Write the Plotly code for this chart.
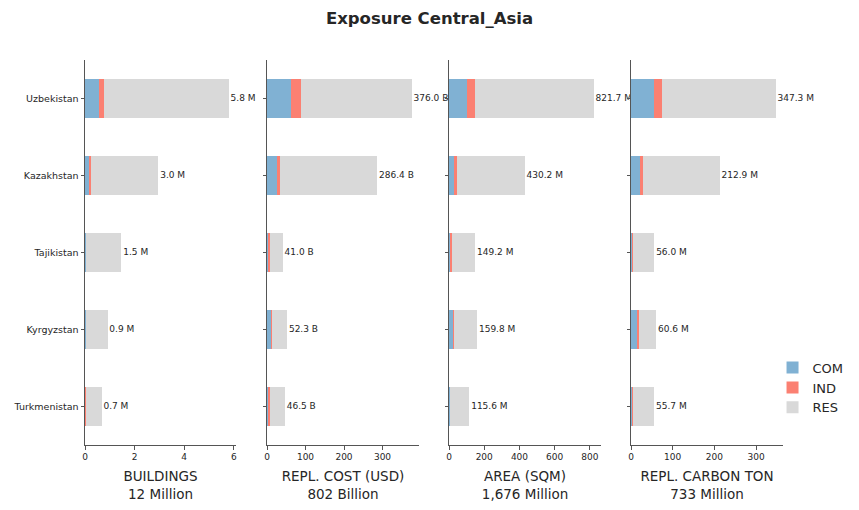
import plotly.graph_objects as go

countries = ["Uzbekistan", "Kazakhstan", "Tajikistan", "Kyrgyzstan", "Turkmenistan"]

# BUILDINGS (million)
bld_com = [0.58, 0.17, 0.06, 0.06, 0.00]
bld_ind = [0.20, 0.08, 0.00, 0.00, 0.06]
bld_res = [5.02, 2.71, 1.41, 0.85, 0.61]

# REPL. COST (billion USD)
cost_com = [63.0, 25.0, 4.5, 11.3, 4.5]
cost_ind = [25.0, 8.0, 2.5, 2.7, 2.3]
cost_res = [288.0, 253.4, 34.0, 38.3, 39.7]

# AREA (million sqm)
area_com = [101.0, 32.0, 9.5, 26.0, 7.0]
area_ind = [46.0, 11.0, 5.0, 1.5, 1.0]
area_res = [674.7, 387.2, 134.7, 132.3, 107.6]

# REPL. CARBON TON (million)
carb_com = [55.0, 23.5, 3.2, 15.3, 3.2]
carb_ind = [19.0, 4.5, 2.4, 3.2, 2.4]
carb_res = [273.3, 184.9, 50.4, 42.1, 50.1]

panel_titles = ["BUILDINGS<br>12 Million", "REPL. COST (USD)<br>802 Billion",
                "AREA (SQM)<br>1,676 Million", "REPL. CARBON TON<br>733 Million"]
unit_suffix = ["M", "B", "M", "M"]
x_dticks = [2, 100, 200, 100]

series_names = ["COM", "IND", "RES"]
colors = ["#80b1d3", "#fb8072", "#d9d9d9"]

panels = [
    (bld_com, bld_ind, bld_res),
    (cost_com, cost_ind, cost_res),
    (area_com, area_ind, area_res),
    (carb_com, carb_ind, carb_res),
]

W, H = 859, 510
L, R, T, B = 85, 76, 60, 65
pw = W - L - R
px_domains = [(85, 236), (267, 419), (449, 601), (631, 783)]
domains = [((a - L) / pw, (b - L) / pw) for a, b in px_domains]

FONT = "DejaVu Sans"
TXT = "#262626"
SPINE = "#555555"

fig = go.Figure()
layout_axes = {}
for i, (vals, title, suf, dt, dom) in enumerate(zip(panels, panel_titles, unit_suffix, x_dticks, domains)):
    n = i + 1
    xa = "x" if n == 1 else f"x{n}"
    ya = "y" if n == 1 else f"y{n}"
    for s, (name, col, v) in enumerate(zip(series_names, colors, vals)):
        fig.add_trace(go.Bar(
            x=v, y=countries, orientation="h", name=name,
            marker=dict(color=col, line=dict(width=0)),
            width=0.5, xaxis=xa, yaxis=ya,
            showlegend=(n == 1), legendgroup=name, hoverinfo="skip",
        ))
    totals = [round(a + b + c, 2) for a, b, c in zip(*vals)]
    fig.add_trace(go.Scatter(
        x=totals, y=countries, mode="text",
        text=[f"\u2009{t:.1f} {suf}" for t in totals],
        textposition="middle right",
        textfont=dict(family=FONT, size=9, color=TXT),
        cliponaxis=False, showlegend=False, hoverinfo="skip",
        xaxis=xa, yaxis=ya,
    ))
    xmax = max(totals) * 1.05
    layout_axes["xaxis" if n == 1 else f"xaxis{n}"] = dict(
        domain=list(dom), anchor=ya, range=[0, xmax], dtick=dt, tick0=0,
        showgrid=False, zeroline=False, showline=True, linecolor=SPINE, linewidth=1,
        ticks="outside", ticklen=3.5, tickcolor=SPINE, tickwidth=1,
        tickfont=dict(family=FONT, size=9, color=TXT),
        title=dict(text=title, font=dict(family=FONT, size=13.5, color=TXT), standoff=10),
        fixedrange=True,
    )
    layout_axes["yaxis" if n == 1 else f"yaxis{n}"] = dict(
        domain=[0, 1], anchor=xa, type="category",
        categoryorder="array", categoryarray=countries[::-1], range=[-0.5, 4.5],
        showgrid=False, zeroline=False, showline=True, linecolor=SPINE, linewidth=1,
        ticks="outside", ticklen=3.5, tickcolor=SPINE, tickwidth=1,
        showticklabels=(n == 1),
        tickfont=dict(family=FONT, size=9.5, color=TXT),
        fixedrange=True,
    )

fig.update_layout(
    width=W, height=H,
    margin=dict(l=L, r=R, t=T, b=B, autoexpand=False),
    barmode="stack", bargap=0.5,
    plot_bgcolor="white", paper_bgcolor="white",
    font=dict(family=FONT, color=TXT),
    title=dict(text="Exposure Central_Asia", x=0.5, xanchor="center",
               y=1 - 18 / H, yanchor="middle",
               font=dict(family=FONT, size=16.5, color=TXT, weight="bold")),
    legend=dict(x=0.985, y=0.24, xanchor="left", yanchor="top",
                font=dict(family=FONT, size=13, color=TXT),
                bgcolor="rgba(0,0,0,0)", traceorder="normal", tracegroupgap=2),
    **layout_axes,
)

fig.write_html("out.html", config={"displayModeBar": False},
               post_script="document.body.style.margin='0px';")
